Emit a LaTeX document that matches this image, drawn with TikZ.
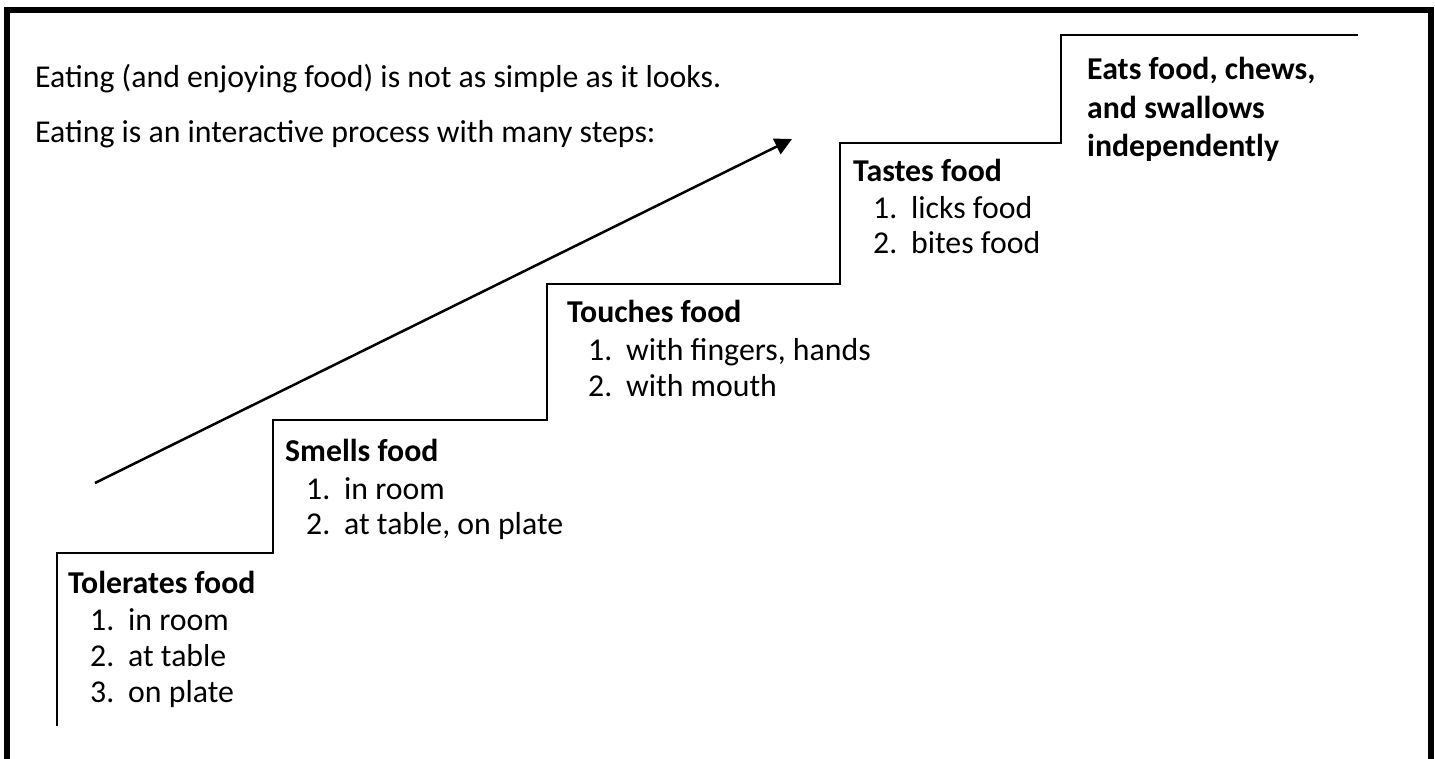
\documentclass[tikz,border=0pt]{standalone}
\usepackage{fontspec}
\setmainfont{Carlito}
\usetikzlibrary{arrows.meta}
\begin{document}
\begin{tikzpicture}[x=1pt,y=-1pt,
  txt/.style={anchor=base west,inner sep=0pt,font=\fontsize{31.8}{38}\selectfont},
  head/.style={txt,font=\fontsize{31.8}{38}\selectfont\bfseries},
  stair/.style={line width=2pt},
  bigarrow/.style={line width=2.5pt,-{Triangle[length=17pt,width=17pt]}}]
\useasboundingbox (0,0) rectangle (1435,759);
\draw[line width=6pt] (7,900) -- (7,10) -- (1431,10) -- (1431,900);
% texts
\node[txt] (l1) at (35,88) {Eating (and enjoying food) is not as simple as it looks.};
\node[txt] (l2) at (35,143) {Eating is an interactive process with many steps:};
% staircase
\coordinate (s0) at (57,726);
\coordinate (s1) at (57,553);
\coordinate (s2) at (273,553);
\coordinate (s3) at (273,420);
\coordinate (s4) at (547,420);
\coordinate (s5) at (547,284);
\coordinate (s6) at (840,284);
\coordinate (s7) at (840,143);
\coordinate (s8) at (1061,143);
\coordinate (s9) at (1061,35);
\coordinate (s10) at (1358,35);
\draw[stair] (s0) -- (s1) -- (s2) -- (s3) -- (s4) -- (s5) -- (s6) -- (s7) -- (s8) -- (s9) -- (s10);
% arrow
\coordinate (a0) at (95,483);
\coordinate (a1) at (792,139);
\draw[bigarrow] (a0) -- (a1);
% Tolerates
\node[head] (h1) at (68,593) {Tolerates food};
\node[txt] (h1a) at (90,630) {\makebox[38pt][l]{1.}in room};
\node[txt] (h1b) at (90,666) {\makebox[38pt][l]{2.}at table};
\node[txt] (h1c) at (90,702) {\makebox[38pt][l]{3.}on plate};
% Smells
\node[head] (h2) at (285,461) {Smells food};
\node[txt] (h2a) at (306,499) {\makebox[38pt][l]{1.}in room};
\node[txt] (h2b) at (306,534) {\makebox[38pt][l]{2.}at table, on plate};
% Touches
\node[head] (h3) at (567,323) {Touches food};
\node[txt] (h3a) at (588,360) {\makebox[38pt][l]{1.}with fingers, hands};
\node[txt] (h3b) at (588,396) {\makebox[38pt][l]{2.}with mouth};
% Tastes
\node[head] (h4) at (853,182) {Tastes food};
\node[txt] (h4a) at (873,219) {\makebox[38pt][l]{1.}licks food};
\node[txt] (h4b) at (873,254) {\makebox[38pt][l]{2.}bites food};
% Eats
\node[head] (h5a) at (1087,80) {Eats food, chews,};
\node[head] (h5b) at (1087,119) {and swallows};
\node[head] (h5c) at (1087,157) {independently};
\end{tikzpicture}
\end{document}
